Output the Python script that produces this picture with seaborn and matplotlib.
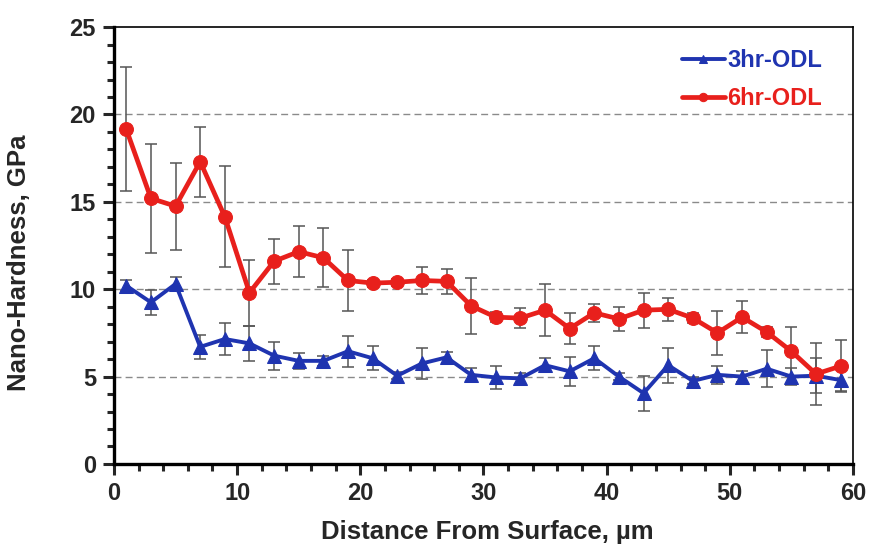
import numpy as np
import pandas as pd
import matplotlib
matplotlib.use("Agg")
import matplotlib.pyplot as plt
from matplotlib.ticker import MultipleLocator
import seaborn as sns

# distancia desde la superficie (um)
distance = [1, 3, 5, 7, 9, 11, 13, 15, 17, 19, 21, 23, 25, 27, 29,
            31, 33, 35, 37, 39, 41, 43, 45, 47, 49, 51, 53, 55, 57, 59]

# 3hr-ODL
hard_3hr = [10.2, 9.25, 10.3, 6.7, 7.15, 6.9, 6.2, 5.9, 5.9, 6.45, 6.05, 5.05, 5.75, 6.1, 5.1,
            4.95, 4.9, 5.65, 5.3, 6.05, 5.0, 4.05, 5.65, 4.75, 5.1, 5.0, 5.45, 5.0, 5.05, 4.8]
err_3hr = [0.3, 0.7, 0.4, 0.7, 0.9, 1.0, 0.8, 0.45, 0.3, 0.9, 0.7, 0.2, 0.87, 0.3, 0.4,
           0.65, 0.3, 0.4, 0.83, 0.7, 0.2, 1.0, 1.0, 0.2, 0.5, 0.3, 1.05, 0.5, 1.0, 0.65]

# 6hr-ODL
hard_6hr = [19.15, 15.2, 14.75, 17.3, 14.15, 9.8, 11.6, 12.15, 11.8, 10.5, 10.35, 10.4, 10.5, 10.45, 9.05,
            8.4, 8.35, 8.8, 7.75, 8.65, 8.3, 8.8, 8.85, 8.35, 7.5, 8.4, 7.55, 6.45, 5.15, 5.6]
err_6hr = [3.55, 3.1, 2.5, 2.0, 2.9, 1.9, 1.3, 1.45, 1.7, 1.75, 0.2, 0.2, 0.78, 0.7, 1.6,
           0.3, 0.55, 1.5, 0.9, 0.5, 0.7, 1.0, 0.65, 0.3, 1.27, 0.9, 0.3, 1.4, 1.8, 1.5]

df3 = pd.DataFrame({"x": distance, "y": hard_3hr, "err": err_3hr})
df6 = pd.DataFrame({"x": distance, "y": hard_6hr, "err": err_6hr})

sns.set_style("white")
plt.rcParams["font.family"] = ["Liberation Sans", "DejaVu Sans"]
plt.rcParams["font.weight"] = "bold"

blue = "#1f34b0"
red = "#e8201c"

fig = plt.figure(figsize=(8.74, 5.53), dpi=100)
ax = fig.add_axes([0.1304, 0.161, 0.8455, 0.790])

# lineas de referencia
for gy in [5, 10, 15, 20]:
    ax.axhline(gy, color="#8a8a8a", lw=1, ls=(0, (5, 3)), zorder=0)

# barras de error
ax.errorbar(df3["x"], df3["y"], yerr=df3["err"], fmt="none", ecolor="#555555",
            elinewidth=1.1, capsize=4, capthick=1.1, zorder=1)
ax.errorbar(df6["x"], df6["y"], yerr=df6["err"], fmt="none", ecolor="#555555",
            elinewidth=1.1, capsize=4, capthick=1.1, zorder=1)

sns.lineplot(data=df3, x="x", y="y", ax=ax, color=blue, lw=2.8, marker="^",
             markersize=10, markeredgecolor=blue, label="3hr-ODL", zorder=3)
sns.lineplot(data=df6, x="x", y="y", ax=ax, color=red, lw=3.4, marker="o",
             markersize=10, markeredgecolor=red, label="6hr-ODL", zorder=3)

ax.set_xlim(0, 60)
ax.set_ylim(0, 25)
ax.xaxis.set_major_locator(MultipleLocator(10))
ax.xaxis.set_minor_locator(MultipleLocator(2))
ax.yaxis.set_major_locator(MultipleLocator(5))
ax.yaxis.set_minor_locator(MultipleLocator(1))
ax.tick_params(which="major", direction="out", length=8, width=2.2, labelsize=17,
               bottom=True, left=True, pad=5)
ax.tick_params(which="minor", direction="out", length=5, width=2.2,
               bottom=True, left=True)
for lab in ax.get_xticklabels() + ax.get_yticklabels():
    lab.set_fontweight("bold")

for side in ["left", "bottom"]:
    ax.spines[side].set_linewidth(2.4)
    ax.spines[side].set_color("black")
for side in ["top", "right"]:
    ax.spines[side].set_linewidth(1.2)
    ax.spines[side].set_color("black")

ax.set_xlabel("Distance From Surface, µm", fontsize=18.5, fontweight="bold")
ax.set_ylabel("Nano-Hardness, GPa", fontsize=18.5, fontweight="bold")
ax.xaxis.set_label_coords(0.505, -0.128)
ax.yaxis.set_label_coords(-0.112, 0.46)

leg = ax.legend(loc="upper right", frameon=False, fontsize=17, handlelength=1.8,
                handletextpad=0.1, labelspacing=0.65, markerscale=0.6,
                borderpad=0, borderaxespad=0, bbox_to_anchor=(0.958, 0.95))
for txt, c in zip(leg.get_texts(), [blue, red]):
    txt.set_color(c)
    txt.set_fontweight("bold")

fig.savefig("out.png", dpi=100)
